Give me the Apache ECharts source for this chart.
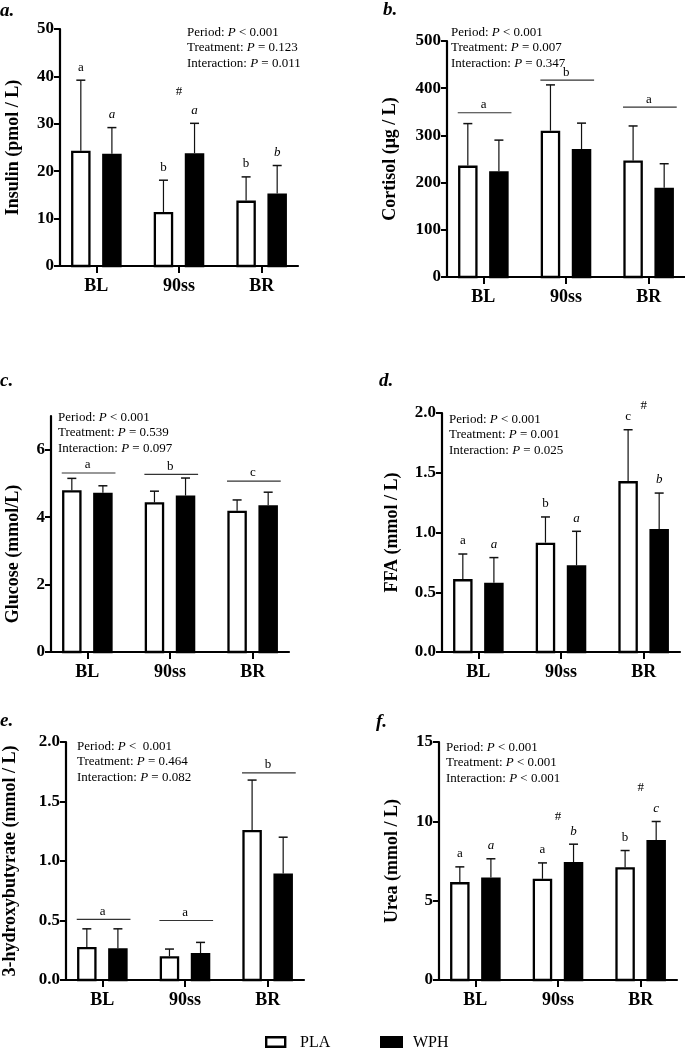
<!DOCTYPE html>
<html><head><meta charset="utf-8">
<script src="https://cdn.jsdelivr.net/npm/echarts@6/dist/echarts.min.js"></script>
<style>html,body{margin:0;padding:0;background:#fff}#c{width:685px;height:1053px}</style>
</head><body><div id="c"></div>
<script>
const categories = ['BL', '90ss', 'BR'];

const insulinPLA = [24.3, 11.4, 13.8];
const insulinPLAsd = [14.9, 6.7, 5.0];
const insulinWPH = [23.7, 23.8, 15.3];
const insulinWPHsd = [5.5, 6.3, 5.9];
const insulinLetPLA = ['a', 'b', 'b'];
const insulinLetWPH = ['a', 'a', 'b'];
const insulinHash = [[1, 36.7]];

const cortisolPLA = [236, 310, 247];
const cortisolPLAsd = [89, 97, 73];
const cortisolWPH = [224, 271, 189];
const cortisolWPHsd = [66, 55, 51];
const cortisolGroups = [[0, 348, 'a'], [1, 417, 'b'], [2, 360, 'a']];

const glucosePLA = [4.80, 4.44, 4.19];
const glucosePLAsd = [0.35, 0.33, 0.32];
const glucoseWPH = [4.72, 4.64, 4.35];
const glucoseWPHsd = [0.21, 0.52, 0.39];
const glucoseGroups = [[0, 5.31, 'a'], [1, 5.27, 'b'], [2, 5.07, 'c']];

const ffaPLA = [0.61, 0.915, 1.43];
const ffaPLAsd = [0.21, 0.215, 0.43];
const ffaWPH = [0.58, 0.725, 1.03];
const ffaWPHsd = [0.21, 0.285, 0.30];
const ffaLetPLA = ['a', 'b', 'c'];
const ffaLetWPH = ['a', 'a', 'b'];
const ffaHash = [[2, 2.06]];

const hbPLA = [0.277, 0.20, 1.26];
const hbPLAsd = [0.153, 0.06, 0.42];
const hbWPH = [0.266, 0.226, 0.895];
const hbWPHsd = [0.164, 0.09, 0.305];
const hbGroups = [[0, 0.51, 'a'], [1, 0.50, 'a'], [2, 1.74, 'b']];

const ureaPLA = [6.17, 6.38, 7.11];
const ureaPLAsd = [0.96, 1.0, 1.05];
const ureaWPH = [6.46, 7.43, 8.83];
const ureaWPHsd = [1.18, 1.13, 1.16];
const ureaLetPLA = ['a', 'a', 'b'];
const ureaLetWPH = ['a', 'b', 'c'];
const ureaHash = [[1, 10.3], [2, 12.1]];

const pTexts = [
  ['Period: {i|P} < 0.001', 'Treatment: {i|P} = 0.123', 'Interaction: {i|P} = 0.011'],
  ['Period: {i|P} < 0.001', 'Treatment: {i|P} = 0.007', 'Interaction: {i|P} = 0.347'],
  ['Period: {i|P} < 0.001', 'Treatment: {i|P} = 0.539', 'Interaction: {i|P} = 0.097'],
  ['Period: {i|P} < 0.001', 'Treatment: {i|P} = 0.001', 'Interaction: {i|P} = 0.025'],
  ['Period: {i|P} <  0.001', 'Treatment: {i|P} = 0.464', 'Interaction: {i|P} = 0.082'],
  ['Period: {i|P} < 0.001', 'Treatment: {i|P} < 0.001', 'Interaction: {i|P} < 0.001']
];
const panelLetters = ['a.', 'b.', 'c.', 'd.', 'e.', 'f.'];
const yNames = ['Insulin (pmol / L)', 'Cortisol (μg / L)', 'Glucose (mmol/L)', 'FFA (mmol / L)', '3-hydroxybutyrate (mmol / L)', 'Urea (mmol / L)'];
const yMax = [50, 500, 7, 2, 2, 15];
const yInterval = [10, 100, 2, 0.5, 0.5, 5];
const yTicks = [null, null, [0, 2, 4, 6], null, null, null];
const legendNames = ['PLA', 'WPH'];

const FONT = 'Liberation Serif';
const chart = echarts.init(document.getElementById('c'));

const grids = [
  {left: 60, top: 29, width: 238, height: 237},
  {left: 447, top: 41, width: 238, height: 236},
  {left: 51, top: 416, width: 238, height: 236},
  {left: 442, top: 413, width: 238, height: 239},
  {left: 66, top: 742, width: 238, height: 238},
  {left: 439, top: 742, width: 238, height: 238}
];
const nameGaps = [38, 48, 29, 41, 47, 38];
const namePads = [0, 0, [0, 40, 0, 0], 0, 0, 0];
const pPos = [[187, 25], [451, 25], [58, 410], [449, 412], [77, 739], [446, 740]];
const labelPos = [[0, 2], [383, 1], [0, 372], [379, 372], [0, 712], [376, 713]];

const panels = [
  [insulinPLA, insulinPLAsd, insulinWPH, insulinWPHsd, insulinLetPLA, insulinLetWPH, null, insulinHash],
  [cortisolPLA, cortisolPLAsd, cortisolWPH, cortisolWPHsd, null, null, cortisolGroups, null],
  [glucosePLA, glucosePLAsd, glucoseWPH, glucoseWPHsd, null, null, glucoseGroups, null],
  [ffaPLA, ffaPLAsd, ffaWPH, ffaWPHsd, ffaLetPLA, ffaLetWPH, null, ffaHash],
  [hbPLA, hbPLAsd, hbWPH, hbWPHsd, null, null, hbGroups, null],
  [ureaPLA, ureaPLAsd, ureaWPH, ureaWPHsd, ureaLetPLA, ureaLetWPH, null, ureaHash]
];

const xAxes = [], yAxes = [], series = [], titles = [];
grids.forEach((g, k) => { g.outerBoundsMode = 'none'; g.containLabel = false; });

panels.forEach((p, k) => {
  const [pla, plaSd, wph, wphSd, letP, letW, groups, hashes] = p;
  xAxes.push({
    type: 'value', gridIndex: k, min: -0.44, max: 2.44,
    splitLine: {show: false},
    axisLine: {onZero: false, lineStyle: {color: '#000', width: 2.2}},
    axisTick: {customValues: [0, 1, 2], length: 7, lineStyle: {color: '#000', width: 2}},
    axisLabel: {customValues: [0, 1, 2], margin: 11, formatter: v => categories[Math.round(v)],
      fontFamily: FONT, fontWeight: 'bold', fontSize: 18, color: '#000'}
  });
  const yl = {
    fontFamily: FONT, fontWeight: 'bold', fontSize: 17, color: '#000', margin: 6,
    formatter: v => (yInterval[k] < 1 ? v.toFixed(1) : String(v))
  };
  const yt = {length: 6, lineStyle: {color: '#000', width: 2}};
  if (yTicks[k]) { yl.customValues = yTicks[k]; yt.customValues = yTicks[k]; }
  yAxes.push({
    type: 'value', gridIndex: k, min: 0, max: yMax[k], interval: yInterval[k],
    splitLine: {show: false},
    axisLine: {show: true, onZero: false, lineStyle: {color: '#000', width: 2.2}},
    axisTick: Object.assign({show: true}, yt),
    axisLabel: yl,
    name: yNames[k], nameLocation: 'middle', nameGap: nameGaps[k],
    nameTextStyle: {fontFamily: FONT, fontWeight: 'bold', fontSize: 18, color: '#000', padding: namePads[k]}
  });

  const data = [];
  categories.forEach((c, i) => {
    data.push([i, pla[i], plaSd[i], 0]);
    data.push([i, wph[i], wphSd[i], 1]);
  });
  series.push({
    type: 'custom', xAxisIndex: k, yAxisIndex: k, clip: false,
    data: data,
    renderItem: (params, api) => {
      const x = api.value(0), m = api.value(1), sd = api.value(2), gi = api.value(3);
      const unit = api.size([1, 0])[0];
      const base = api.coord([x, 0]);
      const cx = base[0] + (gi === 0 ? -1 : 1) * 0.188 * unit;
      const y0 = base[1];
      const y1 = api.coord([x, m])[1];
      const y2 = api.coord([x, m + sd])[1];
      const w = 0.236 * unit, bw = 2.3;
      const children = [
        {type: 'line', shape: {x1: cx, y1: y1, x2: cx, y2: y2}, style: {stroke: '#111', lineWidth: 1.2}},
        {type: 'line', shape: {x1: cx - 4.5, y1: y2, x2: cx + 4.5, y2: y2}, style: {stroke: '#111', lineWidth: 1.5}},
        {type: 'rect', shape: {x: cx - w / 2 + bw / 2, y: y1 + bw / 2, width: w - bw, height: y0 - y1 - bw / 2},
          style: {fill: gi ? '#000' : '#fff', stroke: '#000', lineWidth: bw}}
      ];
      const lets = gi ? letW : letP;
      if (lets && lets[x]) {
        children.push({type: 'text', x: cx, y: y2 - 13, style: {text: lets[x], align: 'center', verticalAlign: 'middle',
          font: (gi ? 'italic ' : '') + '13px "' + FONT + '"', fill: '#000'}});
      }
      return {type: 'group', children: children};
    }
  });
  if (groups) {
    series.push({
      type: 'custom', xAxisIndex: k, yAxisIndex: k, clip: false,
      data: groups.map(g => [g[0], g[1]]),
      renderItem: (params, api) => {
        const x = api.value(0), v = api.value(1);
        const a = api.coord([x - 0.31, v]), b = api.coord([x + 0.34, v]);
        return {type: 'group', children: [
          {type: 'line', shape: {x1: a[0], y1: a[1], x2: b[0], y2: b[1]}, style: {stroke: '#333', lineWidth: 1.2}},
          {type: 'text', x: (a[0] + b[0]) / 2 - 1, y: a[1] - 8, style: {text: groups[params.dataIndex][2], align: 'center',
            verticalAlign: 'middle', font: '13px "' + FONT + '"', fill: '#000'}}
        ]};
      }
    });
  }
  if (hashes) {
    series.push({
      type: 'custom', xAxisIndex: k, yAxisIndex: k, clip: false,
      data: hashes,
      renderItem: (params, api) => {
        const pt = api.coord([api.value(0), api.value(1)]);
        return {type: 'text', x: pt[0], y: pt[1], style: {text: '#', align: 'center', verticalAlign: 'middle',
          font: '13px "' + FONT + '"', fill: '#000'}};
      }
    });
  }
  titles.push({
    text: pTexts[k].join('\n'), left: pPos[k][0], top: pPos[k][1], padding: 0,
    textStyle: {fontFamily: FONT, fontSize: 13, fontWeight: 'normal', color: '#000', lineHeight: 15.3,
      rich: {i: {fontFamily: FONT, fontSize: 13, fontStyle: 'italic', color: '#000', lineHeight: 15.3}}}
  });
  titles.push({
    text: panelLetters[k], left: labelPos[k][0], top: labelPos[k][1], padding: 0,
    textStyle: {fontFamily: FONT, fontSize: 19, fontWeight: 'bold', fontStyle: 'italic', color: '#000'}
  });
});

const graphic = [
  {type: 'rect', shape: {x: 266.2, y: 1037.2, width: 19, height: 9.6}, style: {fill: '#fff', stroke: '#000', lineWidth: 2.4}},
  {type: 'text', x: 300, y: 1042.5, style: {text: legendNames[0], font: '16px "' + FONT + '"', fill: '#000', verticalAlign: 'middle'}},
  {type: 'rect', shape: {x: 380, y: 1036, width: 23, height: 12}, style: {fill: '#000'}},
  {type: 'text', x: 413, y: 1042.5, style: {text: legendNames[1], font: '16px "' + FONT + '"', fill: '#000', verticalAlign: 'middle'}}
];

chart.setOption({
  backgroundColor: '#fff',
  animation: false,
  title: titles,
  grid: grids,
  xAxis: xAxes,
  yAxis: yAxes,
  series: series,
  graphic: graphic
});
</script></body></html>
